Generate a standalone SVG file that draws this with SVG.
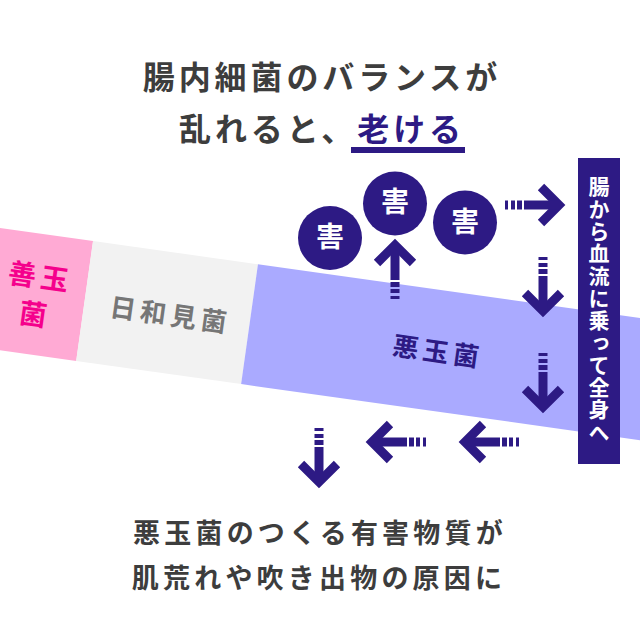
<svg xmlns="http://www.w3.org/2000/svg" width="640" height="636" viewBox="0 0 640 636">
<style>
text{font-family:"Noto Sans CJK JP","Noto Sans",sans-serif;font-weight:700}
.ttl{fill:#3d3d3d;font-size:32px;letter-spacing:3.9px}
.btm{fill:#3d3d3d;font-size:27px;letter-spacing:4.2px}
.pur{fill:#2d1a84}
.arr{fill:#2d1a84;stroke:#2d1a84}
.lbl{font-size:26px;letter-spacing:4.5px}
.gai{fill:#fff;font-size:28px}
</style>
<defs>
<g id="arr">
<polyline points="-24,-18 -6,0 -24,18" fill="none" stroke-width="9" stroke-miterlimit="10"/>
<line x1="-41" y1="0" x2="-8" y2="0" stroke-width="9"/>
<rect x="-48" y="-4.5" width="5" height="9" stroke="none"/>
<rect x="-54" y="-4.5" width="4" height="9" stroke="none"/>
<rect x="-60" y="-4.5" width="3" height="9" stroke="none"/>
</g>
</defs>
<rect width="640" height="636" fill="#fff"/>
<g id="title">
<text class="ttl" x="322" y="89" text-anchor="middle">腸内細菌のバランスが</text>
<text class="ttl" x="322" y="141" text-anchor="middle">乱れると、<tspan class="pur">老ける</tspan></text>
<rect x="351" y="147" width="114" height="6" class="pur"/>
</g>
<g id="band" transform="translate(0,228) rotate(8)">
<g id="zendama">
<rect x="-60" y="0" width="154" height="121" fill="#ffaad4"/>
<text class="lbl" x="47" y="53" text-anchor="middle" fill="#f5008c" style="font-size:28px">善玉</text>
<text class="lbl" x="47" y="91" text-anchor="middle" fill="#f5008c" style="font-size:28px">菌</text>
</g>
<g id="hiyorimi">
<rect x="93.9" y="0" width="166.6" height="121" fill="#f2f2f2"/>
<text class="lbl" x="181" y="72" text-anchor="middle" fill="#767676">日和見菌</text>
</g>
<g id="akudama">
<rect x="260.5" y="0" width="460" height="121" fill="#aaaaff"/>
<text class="lbl pur" x="451" y="71" text-anchor="middle">悪玉菌</text>
</g>
</g>
<g id="harm1"><circle cx="330" cy="238" r="32" class="pur"/><text class="gai" x="330" y="247" text-anchor="middle">害</text></g>
<g id="harm2"><circle cx="395" cy="203.5" r="32" class="pur"/><text class="gai" x="395" y="212" text-anchor="middle">害</text></g>
<g id="harm3"><circle cx="465" cy="222.5" r="32" class="pur"/><text class="gai" x="465" y="232" text-anchor="middle">害</text></g>
<g id="bloodstream">
<rect x="578" y="158" width="42" height="306" class="pur"/>
<text x="599" y="176" fill="#fff" style="writing-mode:vertical-rl;font-size:21px;letter-spacing:1.3px">腸から血流に乗って全身へ</text>
</g>
<g id="connectors" class="arr">
<use href="#arr" transform="translate(565,205)"/>
<use href="#arr" transform="translate(395,239) rotate(-90)"/>
<use href="#arr" transform="translate(543,317) rotate(90)"/>
<use href="#arr" transform="translate(543,413) rotate(90)"/>
<use href="#arr" transform="translate(459,442) rotate(180)"/>
<use href="#arr" transform="translate(366,442) rotate(180)"/>
<use href="#arr" transform="translate(319,488) rotate(90)"/>
</g>
<g id="caption">
<text class="btm" x="320" y="543" text-anchor="middle">悪玉菌のつくる有害物質が</text>
<text class="btm" x="319" y="588" text-anchor="middle">肌荒れや吹き出物の原因に</text>
</g>
</svg>
